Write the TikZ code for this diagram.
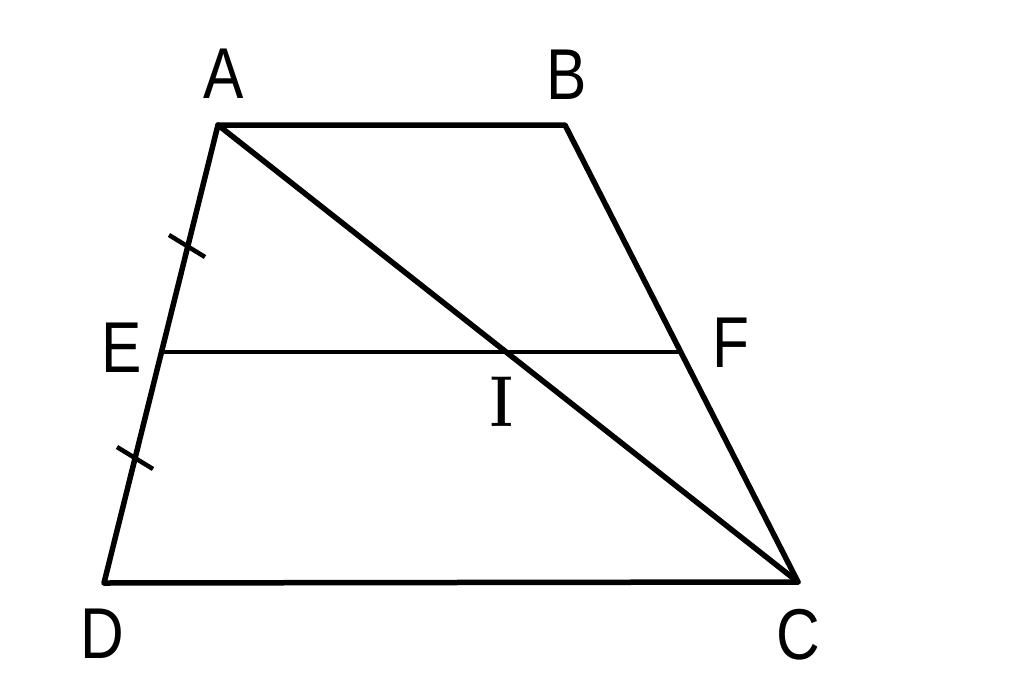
\documentclass[tikz,border=0pt]{standalone}
\usepackage{graphicx}
\usepackage{fontspec}
\setmainfont{Liberation Sans}
\newfontfamily\serifI{Latin Modern Roman}
\newcommand\ptlab[1]{\scalebox{0.84}[1]{#1}}
\begin{document}
\begin{tikzpicture}[x=1pt,y=-1pt,
  edge/.style={line width=5.5pt,line join=round,line cap=round},
  midline/.style={line width=4pt},
  tickmark/.style={line width=4.5pt},
  ptlabel/.style={inner sep=0pt,font=\fontsize{72}{80}\selectfont}]
\useasboundingbox (0,0) rectangle (1024,685);
\coordinate (A) at (218,125);
\coordinate (B) at (565,125);
\coordinate (C) at (798,582);
\coordinate (D) at (104,583);
\coordinate (E) at (161.5,352);
\coordinate (F) at (681,352);
\coordinate (I) at (507,352);
\draw[edge] (A) -- (B) -- (C) -- (D) -- cycle;
\draw[edge] (A) -- (C);
\draw[midline] (E) -- (F);
\coordinate (T1) at (187,246);
\coordinate (T2) at (135,458);
\draw[tickmark] ([shift={(-18,-11)}]T1) -- ([shift={(18,11)}]T1);
\draw[tickmark] ([shift={(-18,-11)}]T2) -- ([shift={(18,11)}]T2);
\node[ptlabel] (lA) at (224,74) {\ptlab{A}};
\node[ptlabel] (lB) at (567,75) {\ptlab{B}};
\node[ptlabel] (lC) at (798,635) {\ptlab{C}};
\node[ptlabel] (lD) at (102,634) {\ptlab{D}};
\node[ptlabel] (lE) at (122,348) {\ptlab{E}};
\node[ptlabel] (lF) at (731,343) {\ptlab{F}};
\node[inner sep=0pt,font=\serifI\bfseries\fontsize{72}{80}\selectfont] (lI) at (502,402) {\scalebox{0.75}[1]{I}};
\end{tikzpicture}
\end{document}
